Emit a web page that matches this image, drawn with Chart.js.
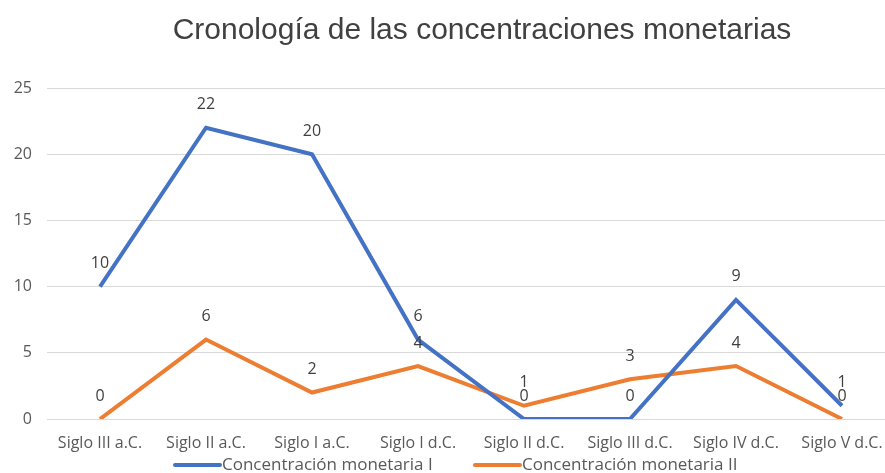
<!DOCTYPE html>
<html>
<head>
<meta charset="utf-8">
<script src="https://cdn.jsdelivr.net/npm/chart.js@4/dist/chart.umd.min.js"></script>
<style>
  html, body { margin: 0; padding: 0; background: #fff; }
  #wrap { width: 885px; height: 473px; overflow: hidden; position: relative; }
  canvas { display: block; }
</style>
</head>
<body>
<div id="wrap"><canvas id="crono-chart" width="910" height="473"></canvas></div>
<script>
// DATOS
const siglos = [
  "Siglo III a.C.",
  "Siglo II a.C.",
  "Siglo I a.C.",
  "Siglo I d.C.",
  "Siglo II d.C.",
  "Siglo III d.C.",
  "Siglo IV d.C.",
  "Siglo V d.C.",
];
const concentracionI = [10, 22, 20, 6, 0, 0, 9, 1];
const concentracionII = [0, 6, 2, 4, 1, 3, 4, 0];
const titulo = "Cronología de las concentraciones monetarias";

const fuente = "'Open Sans', 'Noto Sans', sans-serif";

// etiquetas de datos encima de cada punto
const etiquetasPlugin = {
  id: "etiquetas",
  afterDatasetsDraw(chart) {
    const ctx = chart.ctx;
    ctx.save();
    ctx.font = "16px " + fuente;
    ctx.fillStyle = "#404040";
    ctx.textAlign = "center";
    ctx.textBaseline = "middle";
    chart.data.datasets.forEach((ds, i) => {
      chart.getDatasetMeta(i).data.forEach((pt, j) => {
        ctx.fillText(ds.data[j], pt.x, pt.y - 23);
      });
    });
    ctx.restore();
  },
};

// titulo y leyenda dibujados a mano
const tituloLeyendaPlugin = {
  id: "tituloLeyenda",
  afterDraw(chart) {
    const ctx = chart.ctx;
    ctx.save();
    ctx.font = "30px 'Liberation Sans', Arial, sans-serif";
    ctx.fillStyle = "#404040";
    ctx.textAlign = "center";
    ctx.textBaseline = "middle";
    ctx.fillText(titulo, 482, 31);

    ctx.font = "17px " + fuente;
    ctx.textAlign = "left";
    const y = 465;
    let x = 175;
    chart.data.datasets.forEach((ds) => {
      ctx.strokeStyle = ds.borderColor;
      ctx.lineWidth = 4;
      ctx.lineCap = "round";
      ctx.beginPath();
      ctx.moveTo(x, y);
      ctx.lineTo(x + 45, y);
      ctx.stroke();
      ctx.fillStyle = "#595959";
      ctx.fillText(ds.label, x + 47, y);
      x = 475;
    });
    ctx.restore();
  },
};

const data = {
  labels: siglos,
  datasets: [
    {
      label: "Concentración monetaria I",
      data: concentracionI,
      borderColor: "#4472C4",
      backgroundColor: "#4472C4",
      borderWidth: 4,
      pointRadius: 0,
      tension: 0,
    },
    {
      label: "Concentración monetaria II",
      data: concentracionII,
      borderColor: "#ED7D31",
      backgroundColor: "#ED7D31",
      borderWidth: 4,
      pointRadius: 0,
      tension: 0,
    },
  ],
};

const config = {
  type: "line",
  data: data,
  options: {
    responsive: false,
    animation: false,
    devicePixelRatio: 1,
    layout: {
      padding: { top: 88, right: 15, bottom: 0, left: 0 },
    },
    scales: {
      x: {
        offset: true,
        grid: { display: false, drawTicks: false },
        border: { display: false },
        ticks: {
          padding: 15,
          color: "#595959",
          font: { family: fuente, size: 16 },
          maxRotation: 0,
          autoSkip: false,
        },
        afterFit(scale) {
          scale.height = 54;
        },
      },
      y: {
        min: 0,
        max: 25,
        grid: { color: "#d9d9d9", lineWidth: 1, drawTicks: false },
        border: { display: false },
        ticks: {
          stepSize: 5,
          padding: 15,
          color: "#595959",
          font: { family: fuente, size: 16 },
        },
        afterFit(scale) {
          scale.width = 47;
        },
      },
    },
    plugins: {
      legend: { display: false },
      title: { display: false },
      tooltip: { enabled: false },
    },
  },
  plugins: [etiquetasPlugin, tituloLeyendaPlugin],
};

const myChart = new Chart(document.getElementById("crono-chart"), config);
</script>
</body>
</html>
